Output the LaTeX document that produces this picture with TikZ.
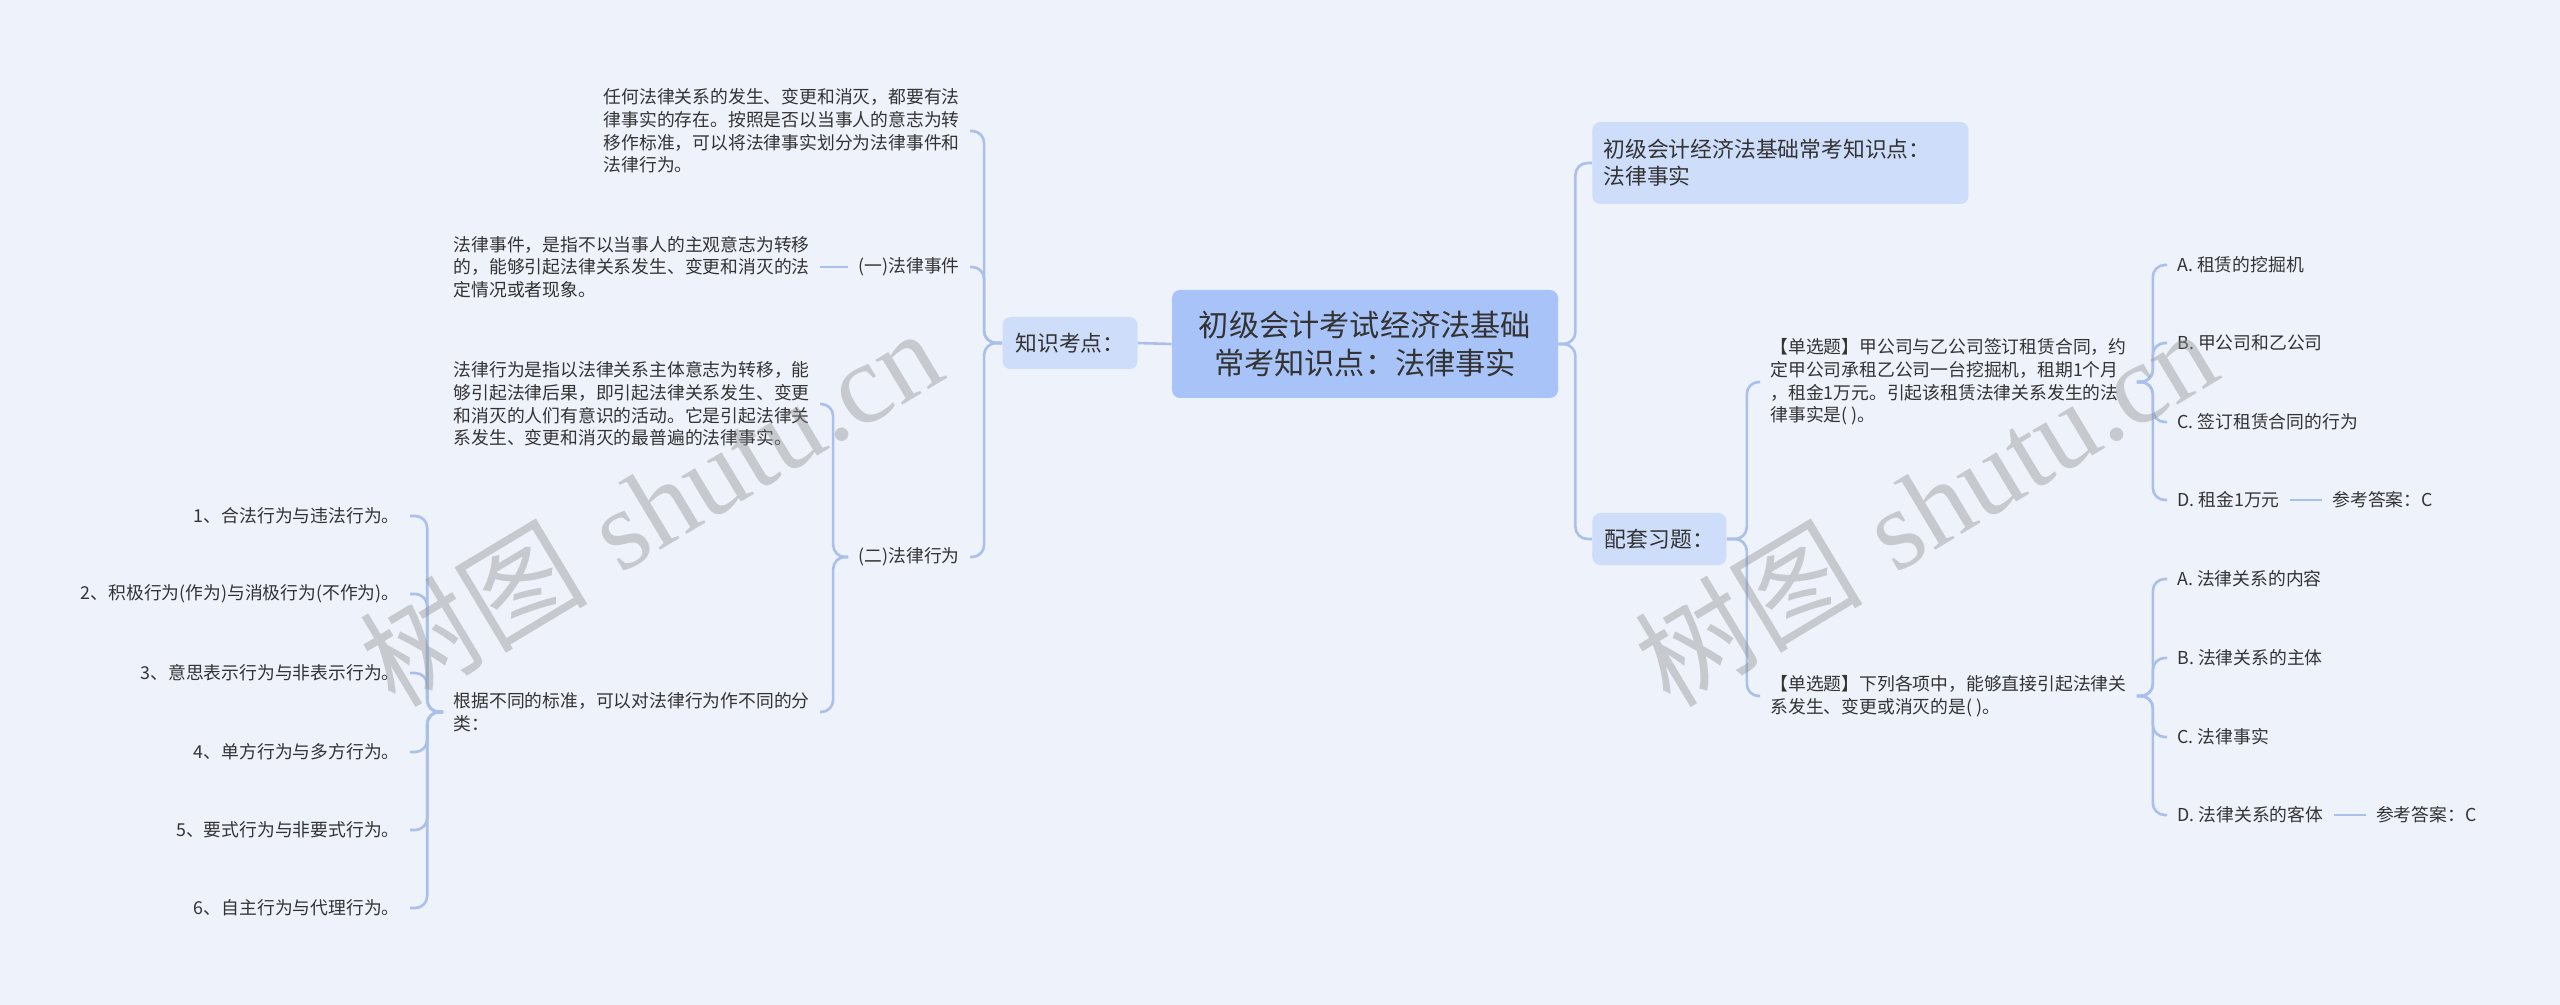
\documentclass[tikz,border=0pt]{standalone}
\usepackage{fontspec}
\usepackage{xcolor}
\usepackage{tikz}
\newfontfamily\cjk{Noto Sans CJK SC}
\newfontfamily\wmfont{Liberation Serif}
\definecolor{bgblue}{RGB}{238,242,251}
\definecolor{rootblue}{RGB}{168,195,247}
\definecolor{subblue}{RGB}{205,221,250}
\definecolor{linkblue}{RGB}{170,192,235}
\definecolor{inkgray}{RGB}{51,51,51}

\begin{document}
\begin{tikzpicture}[x=0.5pt,y=-0.5pt,
    link/.style={draw=linkblue,line width=1.3pt,rounded corners=6pt},
    rootbox/.style={fill=rootblue,rounded corners=4pt,align=center,text=inkgray,
        minimum width=193pt,minimum height=54pt,font=\cjk\fontsize{15.1}{19}\selectfont},
    subbox/.style={fill=subblue,rounded corners=4pt,inner xsep=5.5pt,text=inkgray,
        font=\cjk\fontsize{10.9}{13.5}\selectfont},
    leaf/.style={inner xsep=5pt,inner ysep=2pt,text=inkgray,
        font=\cjk\fontsize{8.9}{11.3}\selectfont},
    para/.style={leaf,align=left},
    wmark/.style={rotate=31,text=black!45,opacity=0.4,font=\fontsize{57}{57}\selectfont}]

    \useasboundingbox (0,0) rectangle (2560,1005);
    \fill[bgblue] (0,0) rectangle (2560,1005);

    % centre and main branches
    \node[rootbox] (root) at (1365,344) {初级会计考试经济法基础\\常考知识点：法律事实};
    \node[subbox,minimum width=67.5pt,minimum height=26pt] (kp) at (1070,343) {知识考点：};
    \node[subbox,anchor=west,align=left,text width=177pt,minimum height=41pt] (topic) at (1592,163)
        {初级会计经济法基础常考知识点：\\法律事实};
    \node[subbox,anchor=west,minimum width=67pt,minimum height=26pt] (ex) at (1592,539) {配套习题：};

    % left side
    \node[para,anchor=east] (fact) at (970,131) {任何法律关系的发生、变更和消灭，都要有法\\律事实的存在。按照是否以当事人的意志为转\\移作标准，可以将法律事实划分为法律事件和\\法律行为。};
    \node[leaf,anchor=east] (ev) at (970,267) {(一)法律事件};
    \node[para,anchor=east] (evtext) at (820,267) {法律事件，是指不以当事人的主观意志为转移\\的，能够引起法律关系发生、变更和消灭的法\\定情况或者现象。};
    \node[leaf,anchor=east] (act) at (970,557) {(二)法律行为};
    \node[para,anchor=east] (acttext) at (820,404) {法律行为是指以法律关系主体意志为转移，能\\够引起法律后果，即引起法律关系发生、变更\\和消灭的人们有意识的活动。它是引起法律关\\系发生、变更和消灭的最普遍的法律事实。};
    \node[para,anchor=east] (actkind) at (820,712) {根据不同的标准，可以对法律行为作不同的分\\类：};

    \node[leaf,anchor=east] (kind1) at (410,516) {1、合法行为与违法行为。};
    \node[leaf,anchor=east] (kind2) at (410,594) {2、积极行为(作为)与消极行为(不作为)。};
    \node[leaf,anchor=east] (kind3) at (410,673) {3、意思表示行为与非表示行为。};
    \node[leaf,anchor=east] (kind4) at (410,752) {4、单方行为与多方行为。};
    \node[leaf,anchor=east] (kind5) at (410,830) {5、要式行为与非要式行为。};
    \node[leaf,anchor=east] (kind6) at (410,908) {6、自主行为与代理行为。};

    % right side
    \node[para,anchor=west] (qa) at (1760,382) {【单选题】甲公司与乙公司签订租赁合同，约\\定甲公司承租乙公司一台挖掘机，租期1个月\\，租金1万元。引起该租赁法律关系发生的法\\律事实是( )。};
    \node[para,anchor=west] (qb) at (1760,696) {【单选题】下列各项中，能够直接引起法律关\\系发生、变更或消灭的是( )。};

    \node[leaf,anchor=west] (qaA) at (2167,265) {A. 租赁的挖掘机};
    \node[leaf,anchor=west] (qaB) at (2167,343) {B. 甲公司和乙公司};
    \node[leaf,anchor=west] (qaC) at (2167,422) {C. 签订租赁合同的行为};
    \node[leaf,anchor=west] (qaD) at (2167,500) {D. 租金1万元};
    \node[leaf,anchor=west] (qaKey) at ([xshift=16pt]qaD.east) {参考答案：C};

    \node[leaf,anchor=west] (qbA) at (2167,579) {A. 法律关系的内容};
    \node[leaf,anchor=west] (qbB) at (2167,658) {B. 法律关系的主体};
    \node[leaf,anchor=west] (qbC) at (2167,737) {C. 法律事实};
    \node[leaf,anchor=west] (qbD) at (2167,815) {D. 法律关系的客体};
    \node[leaf,anchor=west] (qbKey) at ([xshift=16pt]qbD.east) {参考答案：C};

    % connectors
    \draw[link] (root.west) -- (kp.east);
    \draw[link] (root.east) -- ++(17,0) |- (topic.west);
    \draw[link] (root.east) -- ++(17,0) |- (ex.west);

    \draw[link] (kp.west) -- ++(-18,0) |- (fact.east);
    \draw[link] (kp.west) -- ++(-18,0) |- (ev.east);
    \draw[link] (kp.west) -- ++(-18,0) |- (act.east);
    \draw[link] (ev.west) -- (evtext.east);
    \draw[link] (act.west) -- ++(-15,0) |- (acttext.east);
    \draw[link] (act.west) -- ++(-15,0) |- (actkind.east);
    \draw[link] (actkind.west) -- ++(-16,0) |- (kind1.east);
    \draw[link] (actkind.west) -- ++(-16,0) |- (kind2.east);
    \draw[link] (actkind.west) -- ++(-16,0) |- (kind3.east);
    \draw[link] (actkind.west) -- ++(-16,0) |- (kind4.east);
    \draw[link] (actkind.west) -- ++(-16,0) |- (kind5.east);
    \draw[link] (actkind.west) -- ++(-16,0) |- (kind6.east);

    \draw[link] (ex.east) -- ++(20,0) |- (qa.west);
    \draw[link] (ex.east) -- ++(20,0) |- (qb.west);
    \draw[link] (qa.east) -- ++(16,0) |- (qaA.west);
    \draw[link] (qa.east) -- ++(16,0) |- (qaB.west);
    \draw[link] (qa.east) -- ++(16,0) |- (qaC.west);
    \draw[link] (qa.east) -- ++(16,0) |- (qaD.west);
    \draw[link] (qaD.east) -- (qaKey.west);
    \draw[link] (qb.east) -- ++(16,0) |- (qbA.west);
    \draw[link] (qb.east) -- ++(16,0) |- (qbB.west);
    \draw[link] (qb.east) -- ++(16,0) |- (qbC.west);
    \draw[link] (qb.east) -- ++(16,0) |- (qbD.west);
    \draw[link] (qbD.east) -- (qbKey.west);

    % watermark
    \node[wmark] (wmleft) at (650,506) {{\cjk 树图} {\wmfont shutu.cn}};
    \node[wmark] (wmright) at (1925,506) {{\cjk 树图} {\wmfont shutu.cn}};

\end{tikzpicture}
\end{document}
